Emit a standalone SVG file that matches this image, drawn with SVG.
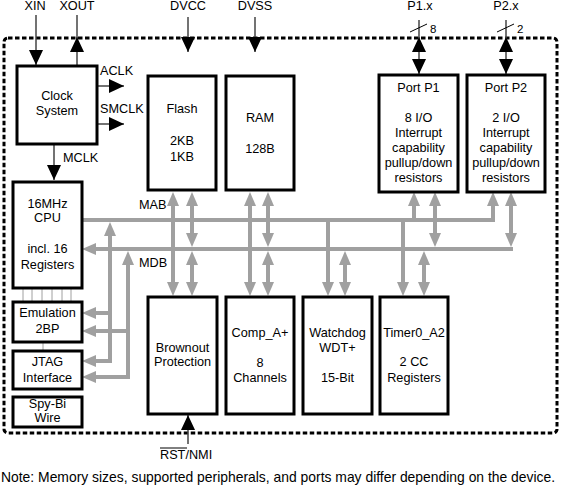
<svg xmlns="http://www.w3.org/2000/svg" width="561" height="485" viewBox="0 0 561 485">
<style>
text{font-family:"Liberation Sans",Arial,sans-serif;font-size:12.7px;fill:#000}
.c{text-anchor:middle}
.box{fill:#fff;stroke:#000;stroke-width:3}
.bus{fill:none;stroke:#a0a0a0;stroke-width:4}
.sig{fill:none;stroke:#444;stroke-width:1.5}
.thin{stroke:#a0a0a0;stroke-width:1}
</style>
<defs>
<marker id="ga" markerUnits="userSpaceOnUse" markerWidth="14" markerHeight="12" viewBox="0 0 14 12" refX="8" refY="6" orient="auto-start-reverse"><path d="M0,0 L14,6 L0,12 z" fill="#a0a0a0"/></marker>
<marker id="ba" markerUnits="userSpaceOnUse" markerWidth="15" markerHeight="14" viewBox="0 0 15 14" refX="15" refY="7" orient="auto-start-reverse"><path d="M0,0 L15,7 L0,14 z" fill="#000"/></marker>
</defs>
<rect x="4" y="38" width="553" height="395" rx="4" fill="none" stroke="#000" stroke-width="3" stroke-dasharray="4.5 2.5"/>

<g id="connectors">
<line class="thin" x1="23" y1="288" x2="23" y2="302"/>
<line class="thin" x1="32" y1="288" x2="32" y2="302"/>
<line class="thin" x1="42" y1="288" x2="42" y2="302"/>
<line class="thin" x1="52" y1="288" x2="52" y2="302"/>
<line class="thin" x1="62" y1="288" x2="62" y2="302"/>
<line class="thin" x1="71" y1="288" x2="71" y2="302"/>
<line class="thin" x1="43" y1="342" x2="43" y2="351"/>
<path class="bus" d="M82,220 H493 V198" marker-end="url(#ga)"/>
<path class="bus" d="M513,249 H88" marker-end="url(#ga)"/>
<path class="bus" d="M88,361 H110 V228" marker-start="url(#ga)" marker-end="url(#ga)"/>
<path class="bus" d="M110,313 H88" marker-end="url(#ga)"/>
<path class="bus" d="M88,377 H128 V257" marker-start="url(#ga)" marker-end="url(#ga)"/>
<path class="bus" d="M128,331 H88" marker-end="url(#ga)"/>
<path class="bus" d="M173,198 V290" marker-start="url(#ga)" marker-end="url(#ga)"/>
<path class="bus" d="M192,198 V241" marker-start="url(#ga)" marker-end="url(#ga)"/>
<path class="bus" d="M192,257 V290" marker-start="url(#ga)" marker-end="url(#ga)"/>
<path class="bus" d="M250,198 V290" marker-start="url(#ga)" marker-end="url(#ga)"/>
<path class="bus" d="M268,198 V241" marker-start="url(#ga)" marker-end="url(#ga)"/>
<path class="bus" d="M268,257 V290" marker-start="url(#ga)" marker-end="url(#ga)"/>
<path class="bus" d="M328,220 V290" marker-end="url(#ga)"/>
<path class="bus" d="M345,257 V290" marker-start="url(#ga)" marker-end="url(#ga)"/>
<path class="bus" d="M403,220 V290" marker-end="url(#ga)"/>
<path class="bus" d="M424,257 V290" marker-start="url(#ga)" marker-end="url(#ga)"/>
<path class="bus" d="M414,220 V198" marker-end="url(#ga)"/>
<path class="bus" d="M435,198 V241" marker-start="url(#ga)" marker-end="url(#ga)"/>
<path class="bus" d="M511,198 V241" marker-start="url(#ga)" marker-end="url(#ga)"/>

<path class="sig" d="M36,15 V65" marker-end="url(#ba)"/>
<path class="sig" d="M77,65 V15"/>
<path class="sig" d="M77,52 V37" marker-end="url(#ba)"/>
<path class="sig" d="M97,86 H124" marker-end="url(#ba)"/>
<path class="sig" d="M97,124 H124" marker-end="url(#ba)"/>
<path class="sig" d="M54,144 V180" marker-end="url(#ba)"/>
<path class="sig" d="M188,17 V52" marker-end="url(#ba)"/>
<path class="sig" d="M255,17 V52" marker-end="url(#ba)"/>
<path class="sig" d="M419,20 V74" marker-end="url(#ba)"/>
<path class="sig" d="M419,52 V37" marker-end="url(#ba)"/>
<path class="sig" d="M506,20 V74" marker-end="url(#ba)"/>
<path class="sig" d="M506,52 V37" marker-end="url(#ba)"/>
<path class="sig" d="M188,444 V415" marker-end="url(#ba)"/>
<line x1="410" y1="32" x2="427" y2="24" stroke="#000" stroke-width="1"/>
<line x1="497" y1="32" x2="514" y2="24" stroke="#000" stroke-width="1"/>
</g>

<g id="labels">
<text class="c" x="35" y="10">XIN</text>
<text class="c" x="77" y="10">XOUT</text>
<text class="c" x="188" y="10">DVCC</text>
<text class="c" x="255" y="10">DVSS</text>
<text class="c" x="420" y="10">P1.x</text>
<text class="c" x="506" y="10">P2.x</text>
<text x="430" y="33" style="font-size:11.5px">8</text>
<text x="517" y="33" style="font-size:11.5px">2</text>
<text x="100" y="75">ACLK</text>
<text x="100" y="113">SMCLK</text>
<text x="63" y="162">MCLK</text>
<text x="139" y="209">MAB</text>
<text x="139" y="267">MDB</text>
<text x="160" y="459">RST/NMI</text>
<line x1="160" y1="448" x2="187" y2="448" stroke="#000" stroke-width="1"/>
<text x="1" y="482" style="font-size:13.9px">Note: Memory sizes, supported peripherals, and ports may differ depending on the device.</text>
</g>

<g id="clock"><rect class="box" x="17" y="66" width="80" height="78"/><text class="c" x="57" y="100">Clock</text><text class="c" x="57" y="115">System</text></g>
<g id="flash"><rect class="box" x="148" y="76" width="68" height="114"/><text class="c" x="182" y="113">Flash</text><text class="c" x="182" y="145">2KB</text><text class="c" x="182" y="161">1KB</text></g>
<g id="ram"><rect class="box" x="226" y="76" width="68" height="114"/><text class="c" x="260" y="122">RAM</text><text class="c" x="260" y="153">128B</text></g>
<g id="port1"><rect class="box" x="379" y="75" width="79" height="117"/><text class="c" x="418.5" y="92">Port P1</text><text class="c" x="418.5" y="122">8 I/O</text><text class="c" x="418.5" y="137">Interrupt</text><text class="c" x="418.5" y="152">capability</text><text class="c" x="418.5" y="167">pullup/down</text><text class="c" x="418.5" y="182">resistors</text></g>
<g id="port2"><rect class="box" x="467" y="75" width="78" height="117"/><text class="c" x="506" y="92">Port P2</text><text class="c" x="506" y="122">2 I/O</text><text class="c" x="506" y="137">Interrupt</text><text class="c" x="506" y="152">capability</text><text class="c" x="506" y="167">pullup/down</text><text class="c" x="506" y="182">resistors</text></g>
<g id="cpu"><rect class="box" x="13" y="182" width="69" height="106"/><text class="c" x="47.5" y="208">16MHz</text><text class="c" x="47.5" y="222">CPU</text><text class="c" x="47.5" y="253">incl. 16</text><text class="c" x="47.5" y="269">Registers</text></g>
<g id="emulation"><rect class="box" x="13" y="302" width="69" height="40"/><text class="c" x="47.5" y="317">Emulation</text><text class="c" x="47.5" y="333">2BP</text></g>
<g id="jtag"><rect class="box" x="13" y="351" width="69" height="38"/><text class="c" x="47.5" y="366">JTAG</text><text class="c" x="47.5" y="382">Interface</text></g>
<g id="spybi"><rect class="box" x="13" y="397" width="69" height="30"/><text class="c" x="47.5" y="408">Spy-Bi</text><text class="c" x="47.5" y="422">Wire</text></g>
<g id="brownout"><rect class="box" x="148" y="297" width="69" height="117"/><text class="c" x="182.5" y="352">Brownout</text><text class="c" x="182.5" y="366">Protection</text></g>
<g id="comp"><rect class="box" x="226" y="297" width="68" height="117"/><text class="c" x="260" y="337">Comp_A+</text><text class="c" x="260" y="367">8</text><text class="c" x="260" y="382">Channels</text></g>
<g id="watchdog"><rect class="box" x="303" y="297" width="69" height="117"/><text class="c" x="337.5" y="337">Watchdog</text><text class="c" x="337.5" y="352">WDT+</text><text class="c" x="337.5" y="382">15-Bit</text></g>
<g id="timer"><rect class="box" x="380" y="297" width="68" height="117"/><text class="c" x="414" y="337">Timer0_A2</text><text class="c" x="414" y="366">2 CC</text><text class="c" x="414" y="382">Registers</text></g>
</svg>
